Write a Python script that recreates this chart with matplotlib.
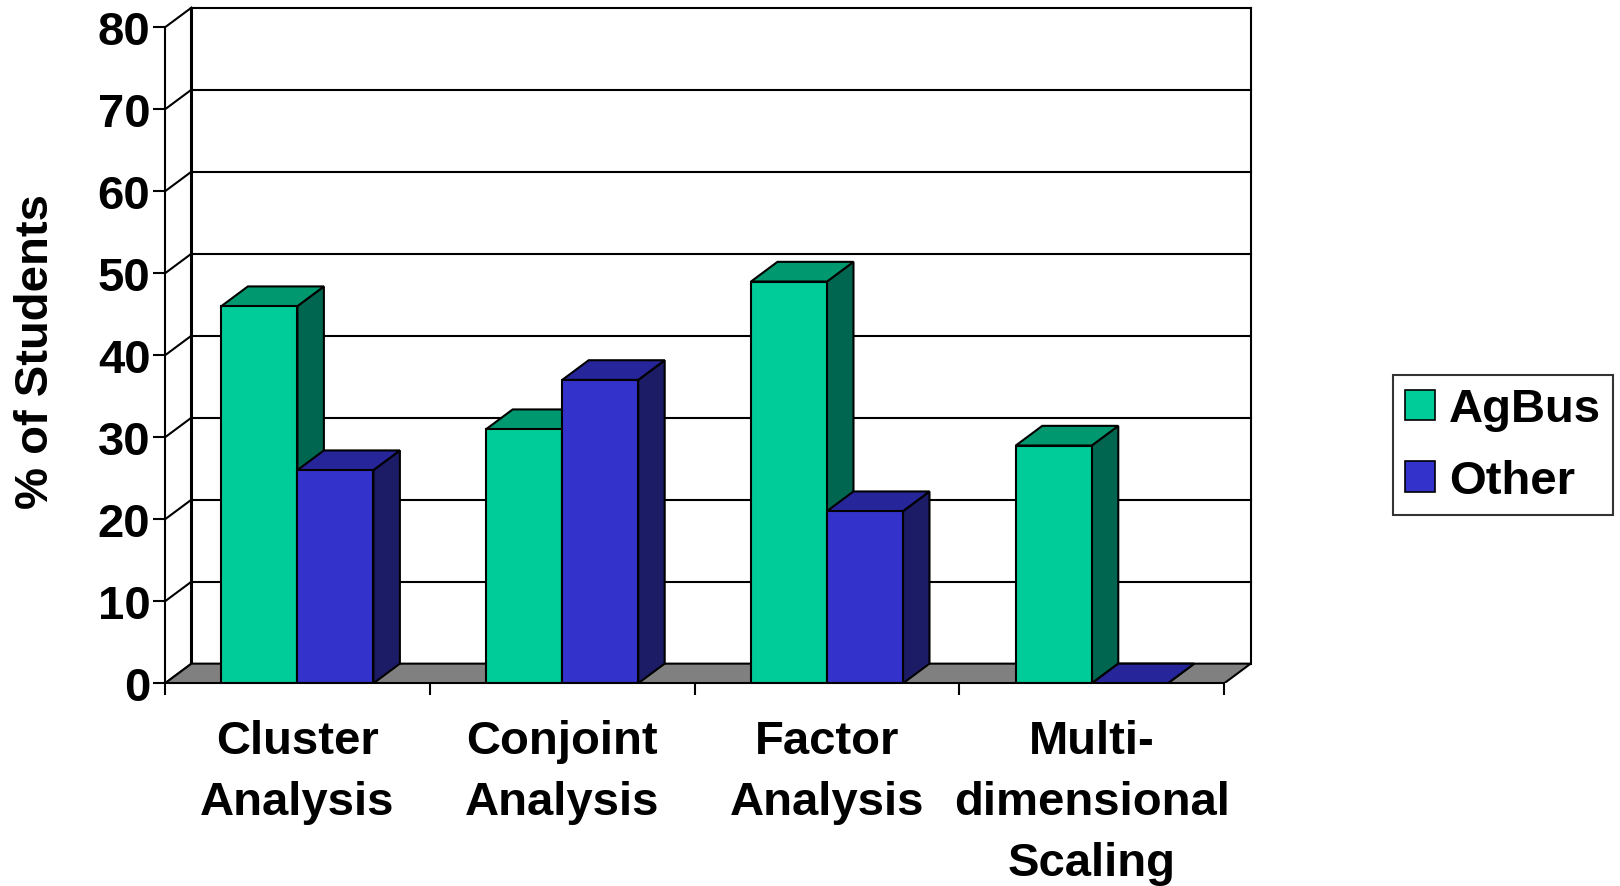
import matplotlib
matplotlib.use("Agg")
import matplotlib.pyplot as plt
from matplotlib.patches import Polygon, Patch
import numpy as np

plt.rcParams['font.family'] = ['Liberation Sans', 'DejaVu Sans']
plt.rcParams['font.weight'] = 'bold'

categories = ['Cluster\nAnalysis', 'Conjoint\nAnalysis', 'Factor\nAnalysis',
              'Multi-\ndimensional\nScaling']
series_names = ['AgBus', 'Other']
agbus = [46, 31, 49, 29]
other = [26, 37, 21, 0]
yticks = [0, 10, 20, 30, 40, 50, 60, 70, 80]

# front / top / side shades for each series
front_cols = ['#00CC99', '#3333CC']
top_cols = ['#00996F', '#26269A']
side_cols = ['#006650', '#1C1C66']
floor_col = '#808080'

# fake 3d depth offset in data units
dx = 0.1
dy = 2.4
bw = 0.287
gap = (1 - 2 * bw) / 2
lw = 1.5
fs = 34

fig = plt.figure(figsize=(16.2, 8.87), dpi=100)
ax = fig.add_axes([165 / 1620, 0.2285, 4.2 * 264.8 / 1620, 83 * 8.2 / 887])
ax.set_xlim(0, 4.2)
ax.set_ylim(0, 83)
ax.patch.set_visible(False)

n = len(categories)
ymax = yticks[-1]

# floor
ax.add_patch(Polygon([(0, 0), (n, 0), (n + dx, dy), (dx, dy)], closed=True,
                     facecolor=floor_col, edgecolor='black', lw=lw, zorder=1))

# back wall gridlines and left wall diagonals
for v in yticks[1:]:
    ax.plot([dx, n + dx], [v + dy, v + dy], color='black', lw=lw, zorder=0.5)
for v in yticks:
    ax.plot([0, dx], [v, v + dy], color='black', lw=lw, zorder=0.5)
ax.plot([dx, dx], [dy, ymax + dy], color='black', lw=2.2, zorder=0.6)
ax.plot([n + dx, n + dx], [dy, ymax + dy], color='black', lw=lw, zorder=0.5)

# bars
for i in range(n):
    for j, vals in enumerate([agbus, other]):
        v = vals[i]
        x0 = i + gap + j * bw
        z = 2 + i + 0.1 * j
        ax.add_patch(Polygon([(x0 + bw, 0), (x0 + bw + dx, dy), (x0 + bw + dx, v + dy), (x0 + bw, v)],
                             closed=True, facecolor=side_cols[j], edgecolor='black', lw=lw, zorder=z))
        ax.add_patch(Polygon([(x0, v), (x0 + bw, v), (x0 + bw + dx, v + dy), (x0 + dx, v + dy)],
                             closed=True, facecolor=top_cols[j], edgecolor='black', lw=lw, zorder=z))
        if v > 0:
            ax.add_patch(Polygon([(x0, 0), (x0 + bw, 0), (x0 + bw, v), (x0, v)],
                                 closed=True, facecolor=front_cols[j], edgecolor='black', lw=lw, zorder=z))

# axes styling
for s in ['top', 'right']:
    ax.spines[s].set_visible(False)
ax.spines['left'].set_bounds(0, ymax)
ax.spines['bottom'].set_bounds(0, n)
ax.spines['left'].set_linewidth(lw)
ax.spines['bottom'].set_linewidth(lw)
ax.spines['bottom'].set_zorder(20)

ax.set_yticks(yticks)
ax.set_yticklabels([str(t) for t in yticks], fontsize=fs, fontweight='bold')
ax.tick_params(axis='y', length=8.5, width=lw, pad=2)

ax.set_xticks(np.arange(n + 1))
ax.set_xticklabels([])
ax.set_xticks(np.arange(n) + 0.5, minor=True)
ax.set_xticklabels(categories, minor=True, fontsize=fs, fontweight='bold', linespacing=1.5)
ax.tick_params(axis='x', which='major', length=8.5, width=lw)
ax.tick_params(axis='x', which='minor', length=0, pad=26)

fig.text(0.0225, 0.604, '% of Students', rotation=90, ha='center', va='center',
         fontsize=fs, fontweight='bold')

handles = [Patch(facecolor=front_cols[k], edgecolor='black', lw=1.2) for k in range(2)]
leg = fig.legend(handles, series_names, loc='center', bbox_to_anchor=(0.9278, 0.497),
                 prop={'size': fs, 'weight': 'bold'}, frameon=True, fancybox=False,
                 handlelength=0.62, handleheight=0.62, handletextpad=0.3,
                 labelspacing=0.58, borderpad=0.26, borderaxespad=0)
leg.get_frame().set_edgecolor('black')
leg.get_frame().set_linewidth(lw)

fig.savefig('out.png', dpi=100)
